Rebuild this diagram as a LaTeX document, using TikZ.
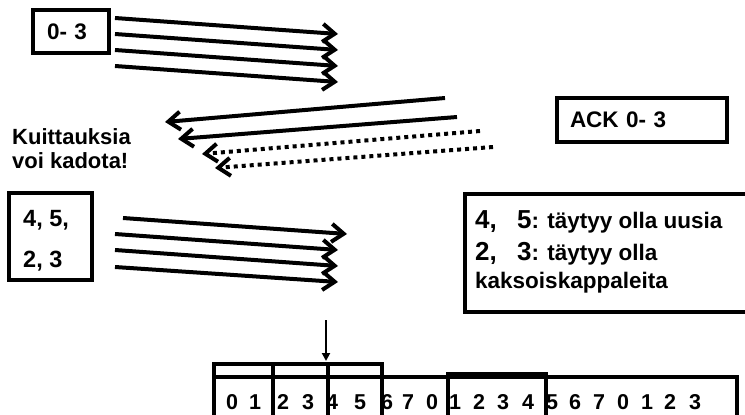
\documentclass[tikz,border=0pt]{standalone}
\usepackage{fontspec}
\setmainfont{Liberation Sans}
\usetikzlibrary{arrows.meta}
\begin{document}
\begin{tikzpicture}[x=1pt,y=-1pt,
  box/.style={draw, line width=4.2pt, inner sep=0pt, outer sep=0pt},
  lbl/.style={font=\fontsize{22}{24}\selectfont\bfseries, inner sep=0pt, align=left},
  big/.style={font=\fontsize{22.5}{26}\selectfont\bfseries, inner sep=0pt, anchor=base west},
  msg/.style={line width=4pt, -{Straight Barb[length=12pt,width=18pt]}},
  lost/.style={msg, dash pattern=on 4pt off 4pt},
  winline/.style={line width=3.3pt},
  dig/.style={font=\fontsize{21.5}{24}\selectfont\bfseries, anchor=base, inner sep=0pt}
]
\useasboundingbox (0,0) rectangle (745,415);
\clip (0,0) rectangle (745,415);

% sender boxes
\node[box, anchor=north west, minimum height=43pt, text width=48pt, inner xsep=14pt, align=left,
      font=\fontsize{22.5}{24}\selectfont\bfseries] (b03) at (33,10) {0- 3};
\node[box, anchor=north west, minimum width=83pt, minimum height=87pt] (b45) at (9,193) {};
\node[lbl, anchor=north west, font=\fontsize{23.5}{41}\selectfont\bfseries] (t45) at (23,210) {4, 5,\\2, 3};

% first burst
\foreach \i/\ya/\yb in {1/18/34, 2/34/50, 3/50/66, 4/66/82}{
  \coordinate (a\i s) at (115,\ya);
  \coordinate (a\i e) at (338,\yb);
  \draw[msg] (a\i s) -- (a\i e);
}

% acks
\coordinate (k1s) at (445,98);  \coordinate (k1e) at (165,122);
\coordinate (k2s) at (457,117); \coordinate (k2e) at (178,139);
\coordinate (k3s) at (480,131); \coordinate (k3e) at (202,154);
\coordinate (k4s) at (493,147); \coordinate (k4e) at (215,168);
\draw[msg] (k1s) -- (k1e);
\draw[msg] (k2s) -- (k2e);
\draw[lost] (k3s) -- (k3e);
\draw[lost] (k4s) -- (k4e);

\node[lbl, anchor=north west] (lost) at (12,128) {Kuittauksia\\voi kadota!};

\node[box, anchor=north west, minimum height=44pt, text width=144pt, inner xsep=13pt, align=left,
      font=\fontsize{22.5}{24}\selectfont\bfseries] (ack) at (557,98) {ACK 0- 3};

% second burst
\coordinate (c1s) at (123,218); \coordinate (c1e) at (347,234);
\draw[msg] (c1s) -- (c1e);
\foreach \i/\ya/\yb in {2/234/250, 3/250/266, 4/267/282}{
  \coordinate (c\i s) at (115,\ya);
  \coordinate (c\i e) at (338,\yb);
  \draw[msg] (c\i s) -- (c\i e);
}

% explanation box
\node[box, anchor=north west, minimum width=290pt, minimum height=118pt] (expl) at (465,194) {};
\node[big] (e1) at (475,228) {{\fontsize{26}{30}\selectfont 4,\hspace{13pt} 5}: täytyy olla uusia};
\node[big] (e2) at (475,260) {{\fontsize{26}{30}\selectfont 2,\hspace{13pt} 3}: täytyy olla};
\node[big] (e3) at (475,288) {kaksoiskappaleita};

% pointer
\coordinate (ptop) at (326,320);
\coordinate (pbot) at (326,361);
\draw[line width=2pt, -{Triangle[length=8pt,width=8pt]}] (ptop) -- (pbot);

% sequence number window
\draw[winline] (214,364) rectangle (273,430);
\draw[winline] (273,364) rectangle (328,430);
\draw[winline] (328,364) rectangle (382,430);
\draw[winline] (214,377) rectangle (737,430);
\draw[winline] (448,374) rectangle (546,430);
\draw[line width=5pt] (448,374) -- (546,374);

\foreach \x/\d [count=\i] in {232/0,255/1,283/2,308/3,332/4,360/5,387/6,408/7,432/0,
  455/1,479/2,503/3,528/4,552/5,575/6,599/7,623/0,647/1,670/2,695/3}{
  \node[dig] (d\i) at (\x,409) {\d};
}
\end{tikzpicture}
\end{document}
